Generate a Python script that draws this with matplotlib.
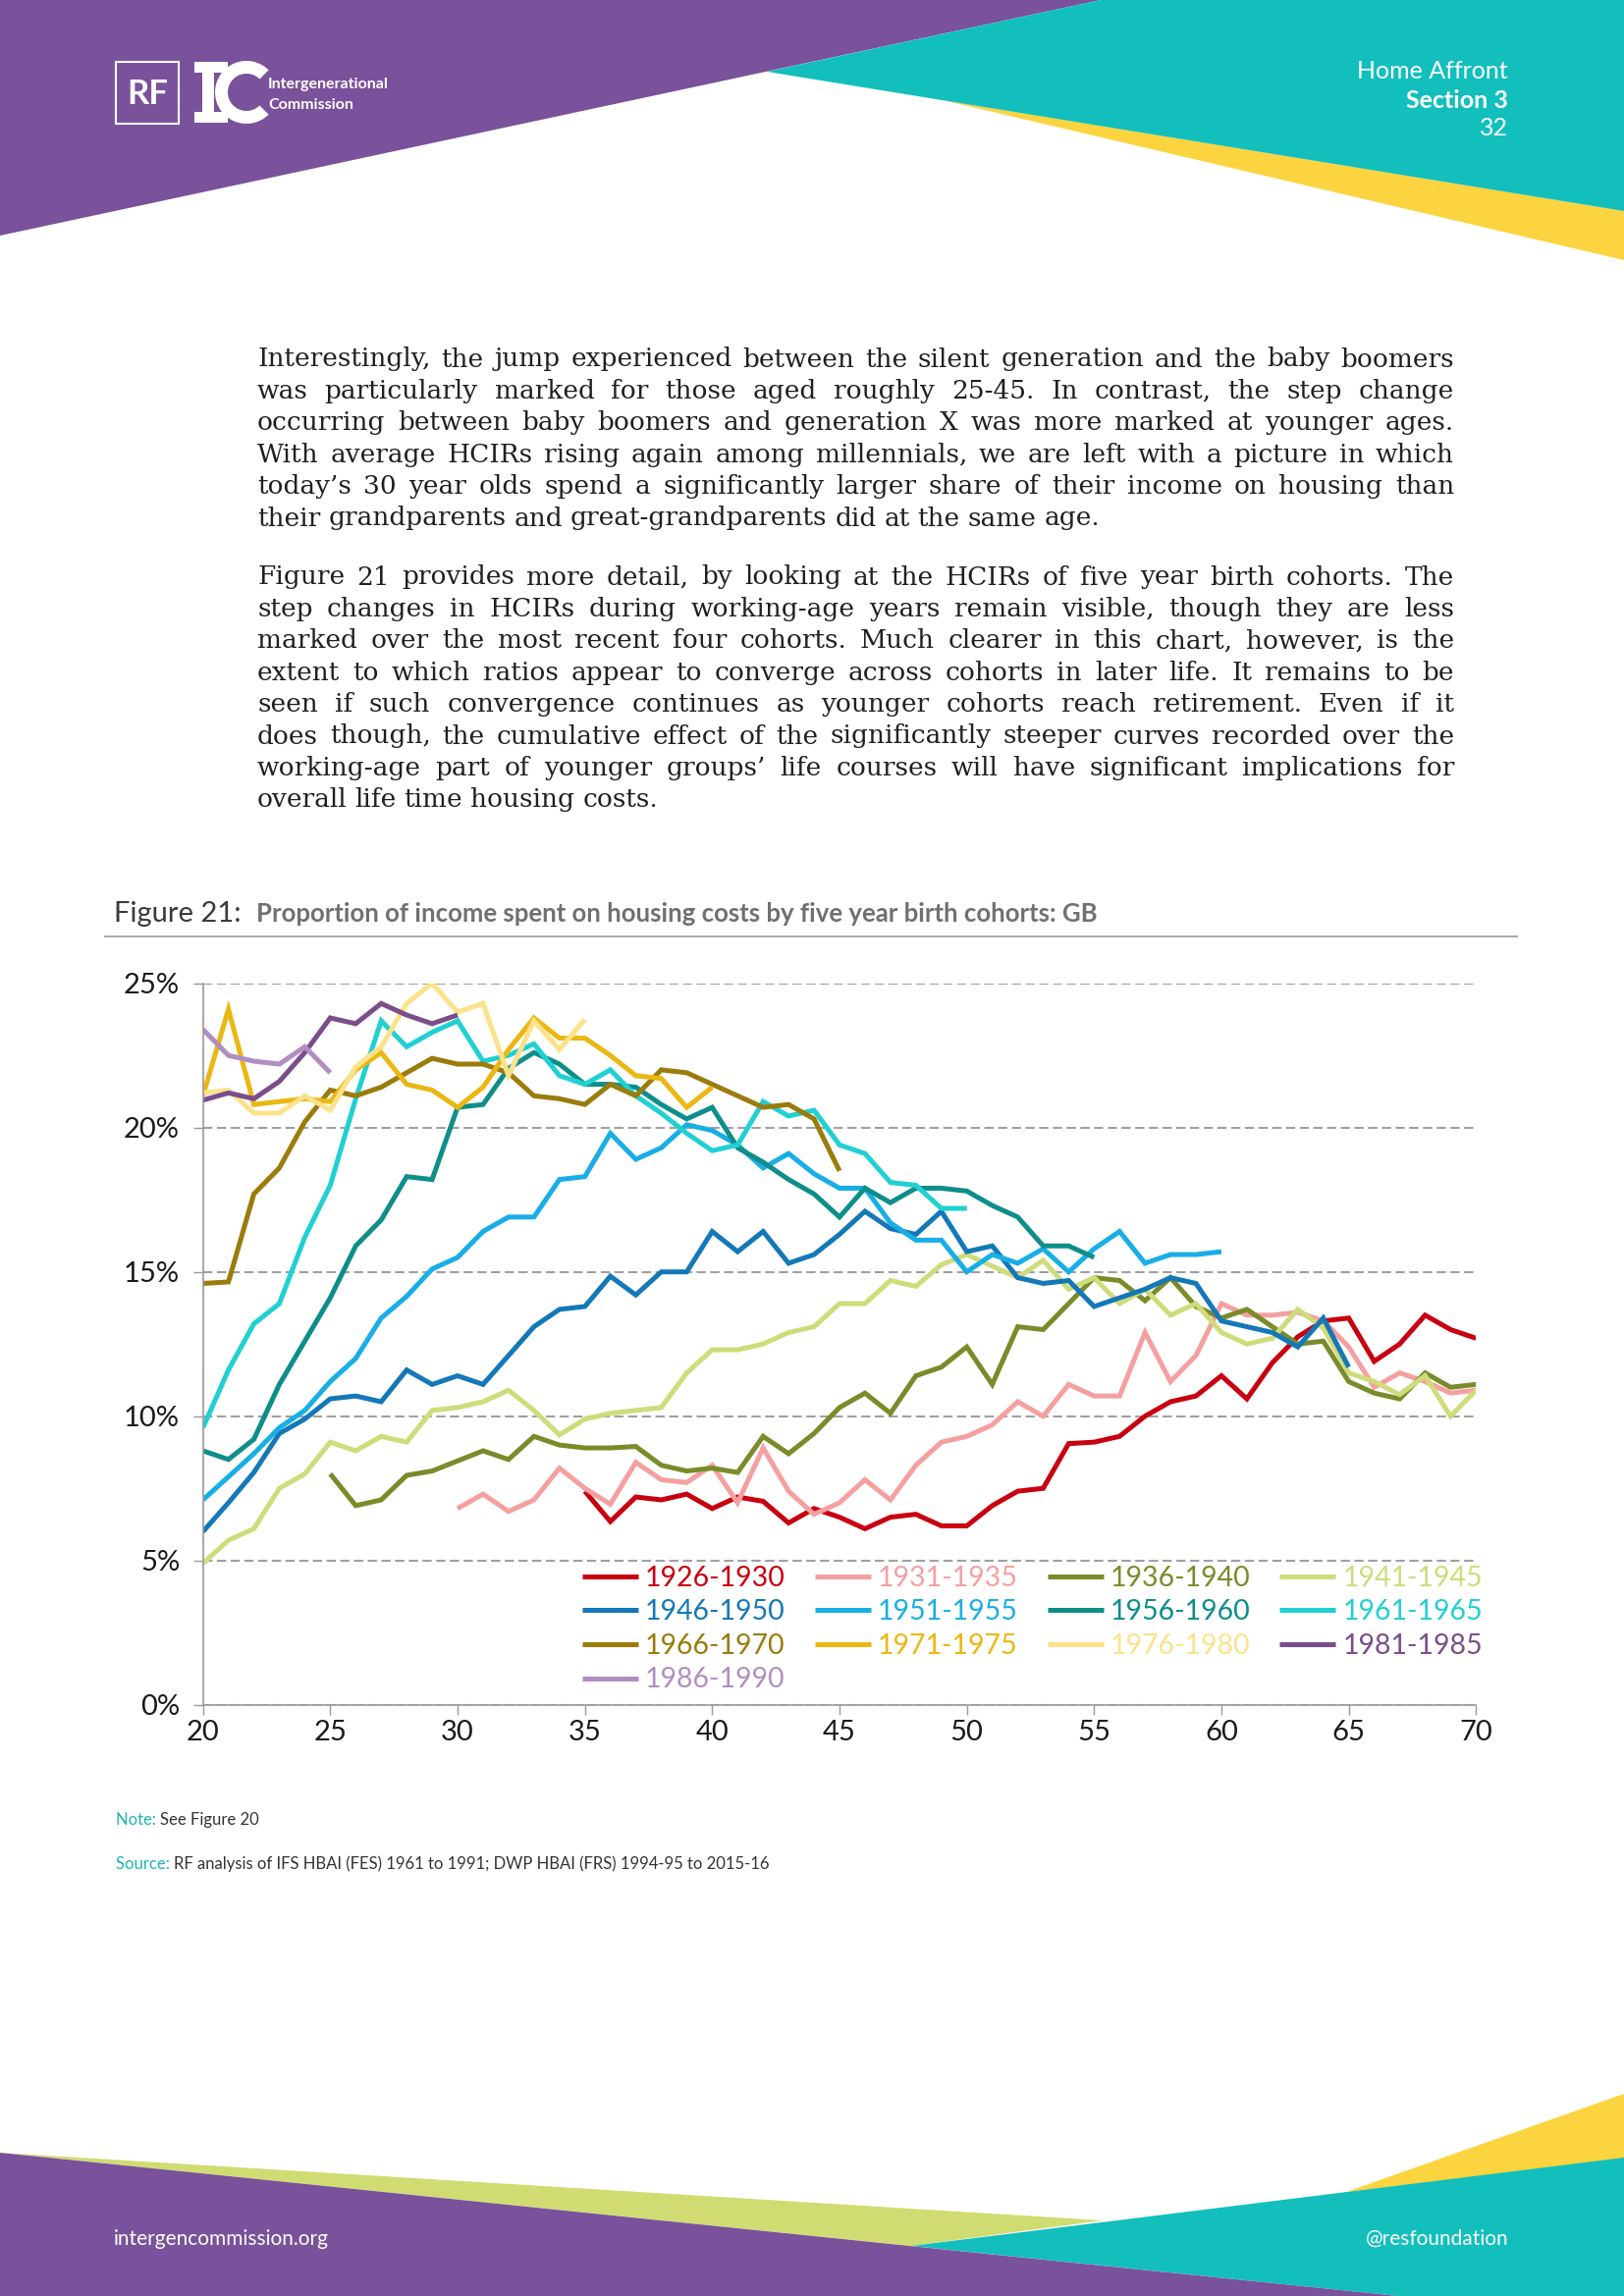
import matplotlib
matplotlib.use('Agg')
import matplotlib.pyplot as plt
from matplotlib.patches import Polygon, Rectangle, Wedge
from matplotlib.lines import Line2D
import numpy as np

# ---- data: housing cost to income ratio (%) by age, five year birth cohorts
cohorts = ['1926-1930', '1931-1935', '1936-1940', '1941-1945', '1946-1950',
           '1951-1955', '1956-1960', '1961-1965', '1966-1970', '1971-1975',
           '1976-1980', '1981-1985', '1986-1990']
start_age = [35, 30, 25, 20, 20, 20, 20, 20, 20, 20, 20, 20, 20]

c1926 = [7.4, 6.35, 7.2, 7.1, 7.3, 6.8, 7.2, 7.05, 6.3, 6.8, 6.5, 6.1, 6.5, 6.6, 6.2, 6.2,
         6.9, 7.4, 7.5, 9.05, 9.1, 9.3, 10.0, 10.5, 10.7, 11.4, 10.6, 11.85, 12.75, 13.3,
         13.4, 11.9, 12.5, 13.5, 13.0, 12.7]
c1931 = [6.8, 7.3, 6.7, 7.1, 8.2, 7.5, 6.95, 8.4, 7.8, 7.7, 8.3, 7.0, 8.9, 7.4, 6.6, 7.0,
         7.8, 7.1, 8.3, 9.1, 9.3, 9.7, 10.5, 10.0, 11.1, 10.7, 10.7, 12.9, 11.2, 12.1,
         13.9, 13.5, 13.5, 13.6, 13.3, 12.4, 11.0, 11.5, 11.2, 10.8, 10.9]
c1936 = [8.0, 6.9, 7.1, 7.95, 8.1, 8.45, 8.8, 8.5, 9.3, 9.0, 8.9, 8.9, 8.95, 8.3, 8.1, 8.2,
         8.05, 9.3, 8.7, 9.4, 10.3, 10.8, 10.1, 11.4, 11.7, 12.4, 11.1, 13.1, 13.0, 13.9,
         14.8, 14.7, 14.0, 14.8, 13.8, 13.4, 13.7, 13.1, 12.5, 12.6, 11.2, 10.8, 10.6,
         11.5, 11.0, 11.1]
c1941 = [4.9, 5.7, 6.1, 7.5, 8.0, 9.1, 8.8, 9.3, 9.1, 10.2, 10.3, 10.5, 10.9, 10.2, 9.35,
         9.9, 10.1, 10.2, 10.3, 11.5, 12.3, 12.3, 12.5, 12.9, 13.1, 13.9, 13.9, 14.7, 14.5,
         15.25, 15.6, 15.2, 14.8, 15.4, 14.4, 14.8, 13.9, 14.4, 13.5, 13.9, 12.9, 12.5,
         12.7, 13.7, 13.05, 11.5, 11.2, 10.75, 11.4, 10.0, 10.9]
c1946 = [6.0, 7.0, 8.05, 9.4, 9.9, 10.6, 10.7, 10.5, 11.6, 11.1, 11.4, 11.1, 12.1, 13.1,
         13.7, 13.8, 14.85, 14.2, 15.0, 15.0, 16.4, 15.7, 16.4, 15.3, 15.6, 16.3, 17.1,
         16.5, 16.3, 17.1, 15.7, 15.9, 14.8, 14.6, 14.7, 13.8, 14.1, 14.4, 14.8, 14.6,
         13.3, 13.1, 12.9, 12.4, 13.4, 11.7]
c1951 = [7.1, 7.9, 8.7, 9.6, 10.2, 11.2, 12.0, 13.4, 14.15, 15.1, 15.5, 16.4, 16.9, 16.9,
         18.2, 18.3, 19.8, 18.9, 19.3, 20.1, 19.9, 19.4, 18.6, 19.1, 18.4, 17.9, 17.9,
         16.7, 16.1, 16.1, 15.0, 15.6, 15.3, 15.8, 15.0, 15.8, 16.4, 15.3, 15.6, 15.6, 15.7]
c1956 = [8.8, 8.5, 9.2, 11.1, 12.6, 14.1, 15.9, 16.8, 18.3, 18.2, 20.7, 20.8, 22.05, 22.6,
         22.2, 21.5, 21.5, 21.4, 20.8, 20.3, 20.7, 19.3, 18.8, 18.2, 17.7, 16.9, 17.9,
         17.4, 17.9, 17.9, 17.8, 17.3, 16.9, 15.9, 15.9, 15.5]
c1961 = [9.6, 11.6, 13.2, 13.9, 16.2, 18.0, 21.0, 23.7, 22.8, 23.3, 23.7, 22.3, 22.5, 22.9,
         21.8, 21.5, 22.0, 21.1, 20.5, 19.8, 19.2, 19.4, 20.9, 20.4, 20.6, 19.4, 19.1,
         18.1, 18.0, 17.2, 17.2]
c1966 = [14.6, 14.65, 17.7, 18.6, 20.2, 21.3, 21.1, 21.4, 21.9, 22.4, 22.2, 22.2, 21.9,
         21.1, 21.0, 20.8, 21.5, 21.1, 22.0, 21.9, 21.5, 21.1, 20.7, 20.8, 20.3, 18.5]
c1971 = [21.1, 24.1, 20.8, 20.9, 21.0, 20.9, 22.0, 22.6, 21.5, 21.3, 20.7, 21.4, 22.7,
         23.8, 23.1, 23.1, 22.5, 21.8, 21.7, 20.7, 21.4]
c1976 = [21.2, 21.3, 20.5, 20.5, 21.1, 20.6, 22.1, 22.8, 24.3, 25.0, 24.0, 24.3, 21.8,
         23.7, 22.7, 23.75]
c1981 = [20.95, 21.2, 21.0, 21.6, 22.6, 23.8, 23.6, 24.3, 23.9, 23.6, 23.9]
c1986 = [23.4, 22.5, 22.3, 22.2, 22.8, 21.9]

series = [c1926, c1931, c1936, c1941, c1946, c1951, c1956, c1961, c1966, c1971,
          c1976, c1981, c1986]
colours = ['#c8000f', '#f5a0a0', '#7a8b2a', '#cfdc7a', '#1478b8', '#18aee6', '#0e8e8a',
           '#20d0d2', '#9b7b0c', '#ebb712', '#fce28a', '#7b4d8a', '#b08ec0']

x_ticks = [20, 25, 30, 35, 40, 45, 50, 55, 60, 65, 70]
y_ticks = [0, 5, 10, 15, 20, 25]

para1 = ["Interestingly, the jump experienced between the silent generation and the baby boomers",
         "was particularly marked for those aged roughly 25-45. In contrast, the step change",
         "occurring between baby boomers and generation X was more marked at younger ages.",
         "With average HCIRs rising again among millennials, we are left with a picture in which",
         "today\u2019s 30 year olds spend a significantly larger share of their income on housing than",
         "their grandparents and great-grandparents did at the same age."]
para2 = ["Figure 21 provides more detail, by looking at the HCIRs of five year birth cohorts. The",
         "step changes in HCIRs during working-age years remain visible, though they are less",
         "marked over the most recent four cohorts. Much clearer in this chart, however, is the",
         "extent to which ratios appear to converge across cohorts in later life. It remains to be",
         "seen if such convergence continues as younger cohorts reach retirement. Even if it",
         "does though, the cumulative effect of the significantly steeper curves recorded over the",
         "working-age part of younger groups\u2019 life courses will have significant implications for",
         "overall life time housing costs."]

# ---- page
W, H = 1654, 2339
PURPLE = '#7a519b'
TEAL = '#12bfbd'
YELLOW = '#fcd440'
GREEN = '#d0dc72'
plt.rcParams['font.family'] = ['Lato', 'DejaVu Sans']

fig = plt.figure(figsize=(W / 100, H / 100), dpi=100)
bg = fig.add_axes([0, 0, 1, 1])
bg.set_xlim(0, W)
bg.set_ylim(H, 0)
bg.axis('off')
r = fig.canvas.get_renderer()

# header shapes
bg.add_patch(Polygon([(0, 0), (1121, 0), (0, 240)], closed=True, color=PURPLE, lw=0))
bg.add_patch(Polygon([(960, 102), (1654, 215), (1654, 265)], closed=True, color=YELLOW, lw=0))
bg.add_patch(Polygon([(1121, 0), (1654, 0), (1654, 215), (781, 73)], closed=True, color=TEAL, lw=0))
# footer shapes
bg.add_patch(Polygon([(1371, 2233), (1654, 2133), (1654, 2200)], closed=True, color=YELLOW, lw=0))
bg.add_patch(Polygon([(0, 2193), (1123, 2262), (928, 2288)], closed=True, color=GREEN, lw=0))
bg.add_patch(Polygon([(928, 2288), (1654, 2198), (1654, H), (1424, H)], closed=True, color=TEAL, lw=0))
bg.add_patch(Polygon([(0, 2193), (1424, H), (0, H)], closed=True, color=PURPLE, lw=0))

# logo
bg.add_patch(Rectangle((118, 63), 64, 63, fill=False, ec='white', lw=1.5))
bg.text(150, 96, 'RF', color='white', fontsize=25, fontweight='bold', ha='center', va='center')
bg.add_patch(Wedge((251, 94), 32, 45, 315, width=13, color='white', lw=0))
bg.add_patch(Rectangle((206, 70), 12, 49, color='white', lw=0))
bg.add_patch(Rectangle((198, 63), 34, 11, color='white', lw=0))
bg.add_patch(Rectangle((198, 114), 34, 11, color='white', lw=0))
bg.text(273, 86, 'Intergenerational', color='white', fontsize=11.5, fontweight='bold', va='center')
bg.text(273, 107, 'Commission', color='white', fontsize=11.5, fontweight='bold', va='center')

bg.text(1536, 72, 'Home Affront', color='white', fontsize=18, ha='right', va='center')
bg.text(1536, 102, 'Section 3', color='white', fontsize=18, fontweight='bold', ha='right', va='center')
bg.text(1536, 131, '32', color='white', fontsize=18, ha='right', va='center')

bg.text(116, 2281, 'intergencommission.org', color='white', fontsize=15, va='center')
bg.text(1536, 2281, '@resfoundation', color='white', fontsize=15, ha='right', va='center')


# body text, justified word by word
def put_line(y, line, justify, x0=262, x1=1481, size=19):
    words = line.split(' ')
    objs = [bg.text(x0, y, w, fontsize=size, family='DejaVu Serif', color='#231f20',
                    va='center') for w in words]
    widths = [o.get_window_extent(r).width for o in objs]
    if justify and len(words) > 1:
        gap = (x1 - x0 - sum(widths)) / (len(words) - 1)
    else:
        gap = size * 1.389 * 0.3
    x = x0
    for o, w in zip(objs, widths):
        o.set_x(x)
        x += w + gap


for i, line in enumerate(para1):
    put_line(366 + i * 32.4, line, i < len(para1) - 1)
for i, line in enumerate(para2):
    put_line(588 + i * 32.4, line, i < len(para2) - 1)


def put_runs(x, y, runs):
    for text, kw in runs:
        t = bg.text(x, y, text, va='center', **kw)
        x += t.get_window_extent(r).width


put_runs(116, 931, [('Figure 21:  ', dict(fontsize=21, color='#3a3a3a')),
                    ('Proportion of income spent on housing costs by five year birth cohorts: GB',
                     dict(fontsize=18.5, color='#707070', fontweight='bold'))])
bg.plot([107, 1545], [954, 954], color='#999999', lw=1.2)

put_runs(118, 1854, [('Note: ', dict(fontsize=12, color='#1fb5b0')),
                     ('See Figure 20', dict(fontsize=12, color='#333333'))])
put_runs(118, 1899, [('Source: ', dict(fontsize=12, color='#1fb5b0')),
                     ('RF analysis of IFS HBAI (FES) 1961 to 1991; DWP HBAI (FRS) 1994-95 to 2015-16',
                      dict(fontsize=12, color='#333333'))])

# ---- chart
ax = fig.add_axes([206.7 / W, 1 - 1736.7 / H, 1296.6 / W, 735 / H])
ax.patch.set_alpha(0)
handles = []
for vals, start, col, lab in zip(series, start_age, colours, cohorts):
    ages = np.arange(start, start + len(vals))
    h, = ax.plot(ages, np.array(vals) / 100, color=col, lw=3.6, label=lab,
                 solid_joinstyle='miter', solid_capstyle='butt')
    handles.append(h)

ax.set_xlim(20, 70)
ax.set_ylim(0, 0.25)
ax.set_xticks(x_ticks)
ax.set_yticks([v / 100 for v in y_ticks])
ax.set_yticklabels([f'{v}%' for v in y_ticks])
ax.tick_params(axis='both', labelsize=21, colors='#999999', labelcolor='#1a1a1a',
               length=7, width=1)
ax.tick_params(axis='y', pad=10)
ax.tick_params(axis='x', pad=4)
for s in ['top', 'right']:
    ax.spines[s].set_visible(False)
for s in ['left', 'bottom']:
    ax.spines[s].set_color('#999999')
    ax.spines[s].set_linewidth(1.2)
ax.yaxis.grid(True, color='#a0a0a0', lw=1.5, dashes=(4.5, 2.2))
ax.set_axisbelow(True)

# legend laid out row by row: 4 columns, column-major order with blanks
blank = Line2D([], [], color='none')
order = [0, 4, 8, 12, 1, 5, 9, None, 2, 6, 10, None, 3, 7, 11, None]
leg_h = [handles[i] if i is not None else blank for i in order]
leg_l = [cohorts[i] if i is not None else '' for i in order]
leg = ax.legend(leg_h, leg_l, ncol=4, loc='upper left', bbox_to_anchor=(0.298, 0.193),
                frameon=False, fontsize=20.5, handlelength=2.0, handletextpad=0.25,
                labelspacing=0.3, columnspacing=1.05, borderpad=0, borderaxespad=0)
for t, h in zip(leg.get_texts(), leg_h):
    if h is not blank:
        t.set_color(h.get_color())

fig.savefig('out.png', dpi=100)
